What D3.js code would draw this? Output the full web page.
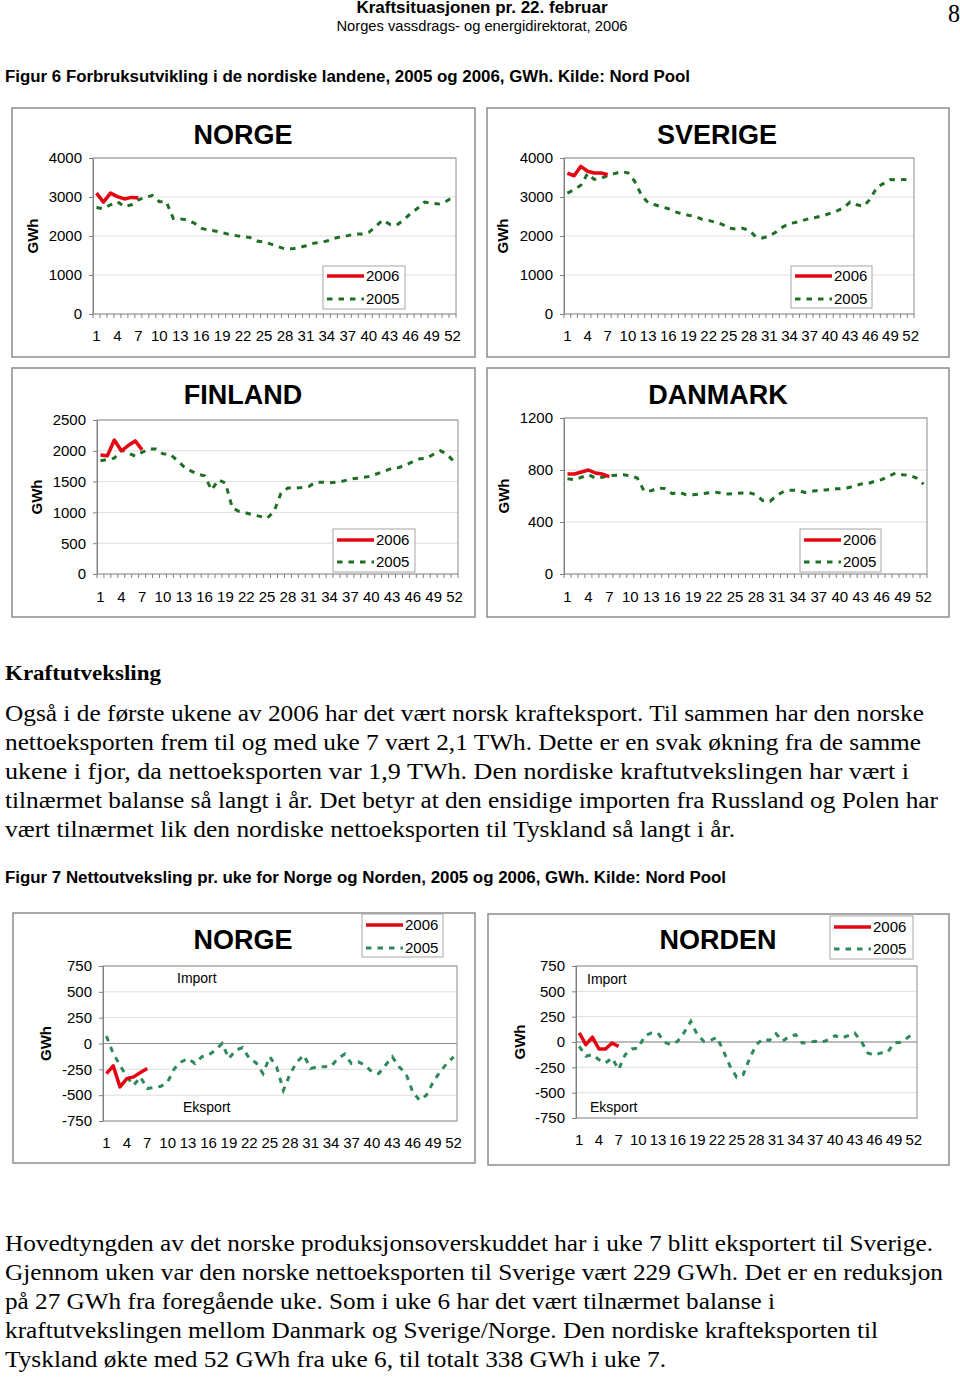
<!DOCTYPE html>
<html><head><meta charset="utf-8">
<script src="https://cdn.jsdelivr.net/npm/d3@7"></script>
<style>body{margin:0;background:#fff}svg{display:block}</style>
</head><body>
<svg id="page" width="960" height="1377"></svg>
<script>
// ---------- DATA ----------
const weeks = [1,2,3,4,5,6,7,8,9,10,11,12,13,14,15,16,17,18,19,20,21,22,23,24,25,26,27,28,29,30,31,32,33,34,35,36,37,38,39,40,41,42,43,44,45,46,47,48,49,50,51,52];
const weekLabels = [1,4,7,10,13,16,19,22,25,28,31,34,37,40,43,46,49,52];
const seriesNames = ["2006","2005"];

const norgeCons2006 = [3100,2870,3100,3010,2950,2990,2980];
const norgeCons2005 = [2730,2700,2800,2880,2750,2800,2930,2990,3040,2880,2880,2450,2440,2410,2330,2200,2150,2130,2090,2040,2010,1980,1960,1870,1850,1790,1730,1670,1670,1700,1750,1810,1840,1870,1940,1980,2010,2050,2050,2090,2240,2410,2300,2280,2410,2580,2710,2870,2840,2820,2880,2990];

const sverigeCons2006 = [3610,3545,3785,3660,3615,3615,3570];
const sverigeCons2005 = [3100,3185,3300,3600,3450,3480,3550,3600,3650,3620,3400,3050,2850,2800,2750,2700,2620,2570,2530,2500,2430,2400,2350,2300,2200,2180,2200,2150,1980,1950,2000,2100,2230,2320,2350,2400,2450,2480,2520,2580,2640,2720,2870,2800,2760,2950,3250,3350,3450,3440,3450,3430];

const finlandCons2006 = [1930,1920,2175,2000,2085,2160,2015];
const finlandCons2005 = [1840,1860,1880,2015,1960,1915,1975,2030,2030,1950,1945,1850,1745,1675,1620,1595,1365,1530,1475,1070,1015,990,960,935,905,1015,1310,1395,1395,1405,1420,1490,1490,1480,1490,1510,1540,1555,1570,1590,1635,1675,1715,1730,1770,1825,1870,1880,1945,2000,1935,1815];

const danmarkCons2006 = [769,769,785,800,777,769,749];
const danmarkCons2005 = [733,725,744,764,738,744,756,760,764,756,738,636,641,662,656,618,628,610,610,615,623,631,623,615,620,623,626,610,564,559,605,636,644,644,628,636,644,646,656,656,662,674,692,695,713,726,751,777,764,759,738,692];

const norgeNet2006 = [-291,-217,-420,-340,-323,-281,-242];
const norgeNet2005 = [71,-97,-210,-323,-404,-323,-436,-427,-414,-372,-242,-178,-145,-194,-129,-113,-65,0,-145,-65,-39,-145,-188,-291,-129,-226,-453,-291,-178,-113,-242,-226,-226,-220,-145,-103,-194,-178,-210,-275,-291,-210,-129,-226,-291,-469,-550,-501,-372,-275,-194,-129];

const nordenNet2006 = [89,-26,49,-69,-69,-10,-43];
const nordenNet2005 = [-43,-141,-125,-174,-207,-158,-272,-125,-69,-59,62,89,89,-3,-26,7,95,203,72,7,16,46,-92,-240,-348,-322,-158,-26,30,16,82,7,56,72,-10,-3,7,-3,23,62,39,62,89,7,-108,-131,-108,-102,-10,-3,39,89];

const consTicksNorge = [0,1000,2000,3000,4000];
const consTicksFinland = [0,500,1000,1500,2000,2500];
const consTicksDanmark = [0,400,800,1200];
const netTicks = [-750,-500,-250,0,250,500,750];

// ---------- TEXT ----------
const headerLines = ["Kraftsituasjonen pr. 22. februar","Norges vassdrags- og energidirektorat, 2006"];
const fig6Caption = "Figur 6 Forbruksutvikling i de nordiske landene, 2005 og 2006, GWh. Kilde: Nord Pool";
const fig7Caption = "Figur 7 Nettoutveksling pr. uke for Norge og Norden, 2005 og 2006, GWh. Kilde: Nord Pool";
const sectionHeading = "Kraftutveksling";
const para1 = [
 "Også i de første ukene av 2006 har det vært norsk krafteksport. Til sammen har den norske",
 "nettoeksporten frem til og med uke 7 vært 2,1 TWh. Dette er en svak økning fra de samme",
 "ukene i fjor, da nettoeksporten var 1,9 TWh. Den nordiske kraftutvekslingen har vært i",
 "tilnærmet balanse så langt i år. Det betyr at den ensidige importen fra Russland og Polen har",
 "vært tilnærmet lik den nordiske nettoeksporten til Tyskland så langt i år."];
const para2 = [
 "Hovedtyngden av det norske produksjonsoverskuddet har i uke 7 blitt eksportert til Sverige.",
 "Gjennom uken var den norske nettoeksporten til Sverige vært 229 GWh. Det er en reduksjon",
 "på 27 GWh fra foregående uke. Som i uke 6 har det vært tilnærmet balanse i",
 "kraftutvekslingen mellom Danmark og Sverige/Norge. Den nordiske krafteksporten til",
 "Tyskland økte med 52 GWh fra uke 6, til totalt 338 GWh i uke 7."];

// ---------- LAYOUT ----------
const SANS = "'Liberation Sans', Arial, sans-serif";
const SERIF = "'Liberation Serif', 'Times New Roman', serif";
const RED = "#e30613";
const GREEN_CONS = "#1f6e25";
const GREEN_NET = "#2e8a5c";
const FS = 15;

const svg = d3.select("#page");

function txt(s, x, y, opts) {
  const t = svg.append("text").attr("x", x).attr("y", y).text(s)
    .attr("font-family", opts.family || SANS)
    .attr("font-size", opts.size || 14)
    .attr("font-weight", opts.weight || "normal")
    .attr("fill", "#000");
  if (opts.anchor) t.attr("text-anchor", opts.anchor);
  if (opts.len) t.attr("textLength", opts.len).attr("lengthAdjust", "spacingAndGlyphs");
  return t;
}

// header
txt(headerLines[0], 482, 13, {weight: "bold", size: 16, anchor: "middle", len: 251});
txt(headerLines[1], 482, 31, {size: 14, anchor: "middle", len: 291});
txt("8", 954, 22, {family: SERIF, size: 26, anchor: "middle", len: 12});
txt(fig6Caption, 5, 82, {weight: "bold", size: 16, len: 685});

function drawChart(cfg) {
  const g = svg.append("g");
  const [fx, fy, fw, fh] = cfg.frame;
  g.append("rect").attr("x", fx).attr("y", fy).attr("width", fw).attr("height", fh)
    .attr("fill", "#fff").attr("stroke", "#8c8c8c").attr("stroke-width", 1.5);
  const [px, py, pw, ph] = cfg.plot;
  const x = d3.scaleBand().domain(weeks).range([px, px + pw]).padding(0);
  const y = d3.scaleLinear().domain(cfg.yDomain).range([py + ph, py]);
  const cx = w => x(w) + x.bandwidth() / 2;

  // gridlines
  g.selectAll("line.grid").data(cfg.yTicks).join("line").attr("class", "grid")
    .attr("x1", px).attr("x2", px + pw).attr("y1", d => y(d)).attr("y2", d => y(d))
    .attr("stroke", "#dedede").attr("stroke-width", 1);
  // plot border
  g.append("rect").attr("x", px).attr("y", py).attr("width", pw).attr("height", ph)
    .attr("fill", "none").attr("stroke", "#8c8c8c").attr("stroke-width", 1);
  if (cfg.net) {
    g.append("line").attr("x1", px).attr("x2", px + pw).attr("y1", y(0)).attr("y2", y(0))
      .attr("stroke", "#8c8c8c").attr("stroke-width", 1);
  }
  // left axis
  const ya = d3.axisLeft(y).tickValues(cfg.yTicks).tickSize(4).tickSizeOuter(0).tickPadding(7)
    .tickFormat(d => String(d));
  const yg = g.append("g").attr("transform", `translate(${px},0)`).call(ya)
    .attr("font-family", SANS).attr("font-size", FS);
  yg.select(".domain").attr("stroke", "#808080");
  yg.selectAll(".tick line").attr("stroke", "#808080");
  yg.selectAll(".tick text").attr("fill", "#000");

  // bottom axis labels
  const xa = d3.axisBottom(x).tickValues(weekLabels).tickSize(0).tickSizeOuter(0).tickFormat(d => String(d));
  const xg = g.append("g").attr("transform", `translate(0,${cfg.xLabelY})`).call(xa)
    .attr("font-family", SANS).attr("font-size", FS);
  xg.select(".domain").remove();
  xg.selectAll(".tick text").attr("fill", "#000").attr("y", 0).attr("dy", 0);

  if (!cfg.net) {
    const bnd = weeks.map(w => x(w)).concat([px + pw]);
    g.selectAll("line.xt").data(bnd).join("line").attr("class", "xt")
      .attr("x1", d => d).attr("x2", d => d).attr("y1", py + ph).attr("y2", py + ph + 4)
      .attr("stroke", "#808080");
  }

  // series
  const line = d3.line().x((d, i) => cx(weeks[i])).y(d => y(d));
  g.append("path").datum(cfg.s2005).attr("d", line).attr("fill", "none")
    .attr("stroke", cfg.green).attr("stroke-width", 3).attr("stroke-dasharray", "5.5,6");
  g.append("path").datum(cfg.s2006).attr("d", line).attr("fill", "none")
    .attr("stroke", RED).attr("stroke-width", 3.5).attr("stroke-linejoin", "round");

  // title
  g.append("text").attr("x", cfg.titleX).attr("y", cfg.titleY).attr("text-anchor", "middle")
    .attr("font-family", SANS).attr("font-weight", "bold").attr("font-size", 27).text(cfg.title);
  // GWh
  const gy = cfg.net ? y(0) : py + ph / 2;
  g.append("text").attr("transform", `translate(${cfg.gwhX},${gy}) rotate(-90)`)
    .attr("text-anchor", "middle").attr("dy", "0.35em")
    .attr("font-family", SANS).attr("font-weight", "bold").attr("font-size", 15).text("GWh");

  if (cfg.net) {
    g.append("text").attr("x", cfg.importPos[0]).attr("y", cfg.importPos[1])
      .attr("font-family", SANS).attr("font-size", 14).text("Import");
    g.append("text").attr("x", cfg.exportPos[0]).attr("y", cfg.exportPos[1])
      .attr("font-family", SANS).attr("font-size", 14).text("Eksport");
  }

  // legend
  const [lx, ly, lw, lh] = cfg.legend;
  const lg = g.append("g");
  lg.append("rect").attr("x", lx).attr("y", ly).attr("width", lw).attr("height", lh)
    .attr("fill", "#fff").attr("stroke", "#a6a6a6").attr("stroke-width", 1);
  const items = [{n: seriesNames[0], c: RED, dash: null, w: 3.5, dy: cfg.legendDy[0]},
                 {n: seriesNames[1], c: cfg.green, dash: "5.5,6", w: 3, dy: cfg.legendDy[1]}];
  items.forEach(it => {
    const l = lg.append("line").attr("x1", lx + 4).attr("x2", lx + 41)
      .attr("y1", ly + it.dy).attr("y2", ly + it.dy).attr("stroke", it.c).attr("stroke-width", it.w);
    if (it.dash) l.attr("stroke-dasharray", it.dash);
    lg.append("text").attr("x", lx + 43).attr("y", ly + it.dy).attr("dy", "0.35em")
      .attr("font-family", SANS).attr("font-size", FS).text(it.n);
  });
}

drawChart({frame: [12, 108, 463, 249], plot: [93, 158, 363, 156], yDomain: [0, 4000], yTicks: consTicksNorge,
  title: "NORGE", titleX: 243, titleY: 144, gwhX: 33, xLabelY: 341, legend: [323, 266, 82, 43], legendDy: [10, 33],
  s2006: norgeCons2006, s2005: norgeCons2005, green: GREEN_CONS});
drawChart({frame: [487, 108, 462, 249], plot: [564, 158, 350, 156], yDomain: [0, 4000], yTicks: consTicksNorge,
  title: "SVERIGE", titleX: 717, titleY: 144, gwhX: 503, xLabelY: 341, legend: [791, 266, 81, 42], legendDy: [10, 33],
  s2006: sverigeCons2006, s2005: sverigeCons2005, green: GREEN_CONS});
drawChart({frame: [12, 368, 463, 249], plot: [97, 420, 361, 154], yDomain: [0, 2500], yTicks: consTicksFinland,
  title: "FINLAND", titleX: 243, titleY: 404, gwhX: 37, xLabelY: 602, legend: [333, 529, 82, 43], legendDy: [11, 33],
  s2006: finlandCons2006, s2005: finlandCons2005, green: GREEN_CONS});
drawChart({frame: [487, 368, 462, 249], plot: [564, 418, 363, 156], yDomain: [0, 1200], yTicks: consTicksDanmark,
  title: "DANMARK", titleX: 718, titleY: 404, gwhX: 504, xLabelY: 602, legend: [800, 529, 81, 43], legendDy: [11, 33],
  s2006: danmarkCons2006, s2005: danmarkCons2005, green: GREEN_CONS});

// text block
txt(sectionHeading, 5, 680, {family: SERIF, weight: "bold", size: 22, len: 156});
para1.forEach((s, i) => {
  const lens = [919, 916, 904, 933, 730];
  txt(s, 5, 721 + 29 * i, {family: SERIF, size: 23.5, len: lens[i]});
});
txt(fig7Caption, 5, 883, {weight: "bold", size: 16, len: 721});

drawChart({net: true, frame: [13, 913, 462, 250], plot: [103, 966, 354, 155], yDomain: [-750, 750], yTicks: netTicks,
  title: "NORGE", titleX: 243, titleY: 949, gwhX: 46, xLabelY: 1148, legend: [362, 914, 81, 43], legendDy: [11, 34],
  importPos: [177, 983], exportPos: [183, 1112],
  s2006: norgeNet2006, s2005: norgeNet2005, green: GREEN_NET});
drawChart({net: true, frame: [488, 914, 461, 251], plot: [576, 966, 341, 152], yDomain: [-750, 750], yTicks: netTicks,
  title: "NORDEN", titleX: 718, titleY: 949, gwhX: 520, xLabelY: 1145, legend: [830, 916, 83, 43], legendDy: [11, 33],
  importPos: [587, 984], exportPos: [590, 1112],
  s2006: nordenNet2006, s2005: nordenNet2005, green: GREEN_NET});

para2.forEach((s, i) => {
  const lens = [928, 938, 770, 873, 661];
  txt(s, 5, 1251 + 29 * i, {family: SERIF, size: 23.5, len: lens[i]});
});
</script>
</body></html>
